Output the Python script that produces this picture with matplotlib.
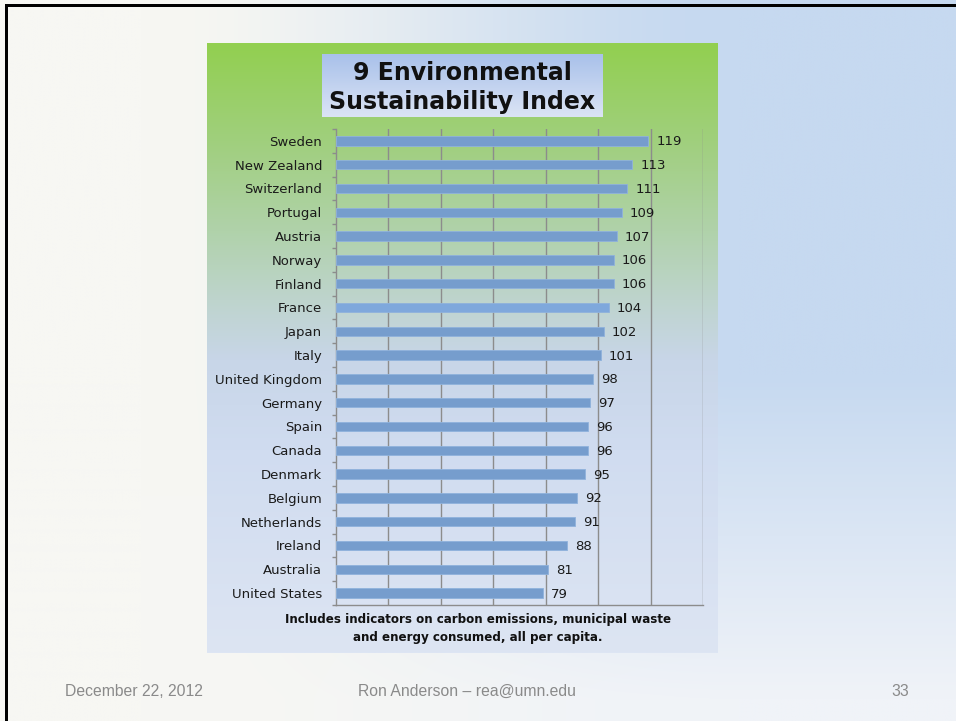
import numpy as np
import matplotlib
matplotlib.use("Agg")
import matplotlib.pyplot as plt
from matplotlib.colors import LinearSegmentedColormap
from matplotlib.patches import Rectangle
from matplotlib import font_manager

countries = ["Sweden", "New Zealand", "Switzerland", "Portugal", "Austria",
             "Norway", "Finland", "France", "Japan", "Italy",
             "United Kingdom", "Germany", "Spain", "Canada", "Denmark",
             "Belgium", "Netherlands", "Ireland", "Australia", "United States"]
scores = [119, 113, 111, 109, 107, 106, 106, 104, 102, 101,
          98, 97, 96, 96, 95, 92, 91, 88, 81, 79]
x_grid = [20, 40, 60, 80, 100, 120, 140]

title_lines = ["9 Environmental", "Sustainability Index"]
note_lines = ["Includes indicators on carbon emissions, municipal waste",
              "and energy consumed, all per capita."]
footer_left = "December 22, 2012"
footer_mid = "Ron Anderson \u2013 rea@umn.edu"
footer_right = "33"

W, H = 956, 721
fig = plt.figure(figsize=(W / 100, H / 100), dpi=100)


def px_axes(x0, y0, x1, y1, **kw):
    # axes placed by pixel box (top-left origin)
    return fig.add_axes([x0 / W, 1 - y1 / H, (x1 - x0) / W, (y1 - y0) / H], **kw)


# slide background: off-white on the left, pale blue to the right, fading lower down
bg = px_axes(0, 0, W, H)
xs = np.linspace(0, 1, 240)
ys = np.linspace(0, 1, 180)
gx, gy = np.meshgrid(xs, ys)
left_c = np.array([247, 247, 243]) / 255
right_c = np.array([198, 217, 240]) / 255
bottom_right = np.array([240, 243, 248]) / 255
hx = np.clip((gx - 0.15) / 0.62, 0, 1)
hx = hx * hx * (3 - 2 * hx)
vy = np.clip((gy - 0.52) / 0.45, 0, 1)
top_mix = left_c + (right_c - left_c) * hx[..., None]
bot_mix = left_c + (bottom_right - left_c) * hx[..., None]
img = top_mix * (1 - vy[..., None]) + bot_mix * vy[..., None]
bg.imshow(img, aspect="auto", extent=[0, 1, 1, 0], interpolation="bilinear")
bg.set_xlim(0, 1)
bg.set_ylim(1, 0)
bg.axis("off")

# black frame lines on top and left
fig.add_artist(Rectangle((5 / W, 0), 3 / W, 1 - 4 / H, transform=fig.transFigure,
                         facecolor="black", edgecolor="none"))
fig.add_artist(Rectangle((5 / W, 1 - 7 / H), 1 - 5 / W, 3 / H, transform=fig.transFigure,
                         facecolor="black", edgecolor="none"))

# chart panel with green-to-blue vertical gradient
box_top, box_bot = 43, 653
panel = px_axes(207, box_top, 718, box_bot)
stops = [(43, (146, 208, 80)), (140, (160, 207, 125)), (230, (176, 210, 170)),
         (300, (190, 212, 205)), (360, (200, 214, 232)), (450, (208, 220, 240)),
         (653, (221, 229, 243))]
panel_cmap = LinearSegmentedColormap.from_list(
    "panel", [((y - box_top) / (box_bot - box_top), np.array(c) / 255) for y, c in stops])
panel.imshow(np.linspace(0, 1, 256)[:, None], cmap=panel_cmap, aspect="auto",
             extent=[0, 1, 1, 0])
panel.set_xlim(0, 1)
panel.set_ylim(1, 0)
panel.axis("off")

# title box
tbox = px_axes(322, 54, 603, 117)
title_cmap = LinearSegmentedColormap.from_list(
    "tbox", [(0, "#a9c1ea"), (1, "#dbe4f5")])
tbox.imshow(np.linspace(0, 1, 64)[:, None], cmap=title_cmap, aspect="auto",
            extent=[0, 1, 1, 0])
tbox.axis("off")
for i, line in enumerate(title_lines):
    fig.text(462.5 / W, 1 - (73 + 28.5 * i) / H, line, ha="center", va="center",
             fontsize=17, fontweight="bold", color="#111111")

# bar plot area
ax = px_axes(335.7, 129, 703.3, 605)
ax.set_facecolor("none")
y = np.arange(len(countries))
bar_colors = ["#7fa8dc" if c == "France" else "#769dcd" for c in countries]
ax.barh(y, scores, height=0.4, color=bar_colors, edgecolor="#8fb2dc", linewidth=0.6,
        zorder=3)
for yi, v in zip(y, scores):
    ax.annotate(str(v), (v, yi), xytext=(8, -1), textcoords="offset pixels",
                ha="left", va="center", fontsize=9.5, color="#1a1a1a", zorder=4)

ax.set_xlim(0, 140)
ax.set_ylim(len(countries) - 0.5, -0.5)
ax.set_xticks(x_grid)
ax.set_xticklabels([])
ax.tick_params(axis="x", length=0)
ax.grid(axis="x", color="#8c8c8c", linewidth=1.0, zorder=1)
ax.set_yticks(y)
ax.set_yticklabels(countries, fontsize=9.5, color="#1a1a1a")
ax.set_yticks(np.arange(len(countries) + 1) - 0.5, minor=True)
ax.tick_params(axis="y", which="major", length=0, pad=9.8)
ax.tick_params(axis="y", which="minor", length=3, width=1, color="#8c8c8c",
               direction="out")
for side in ["top", "right"]:
    ax.spines[side].set_visible(False)
for side in ["left", "bottom"]:
    ax.spines[side].set_color("#8c8c8c")
    ax.spines[side].set_linewidth(1.0)

# footnote under the chart
for i, line in enumerate(note_lines):
    fig.text(478 / W, 1 - (620 + 17 * i) / H, line, ha="center", va="center",
             fontsize=8.6, fontweight="bold", color="#111111")

# slide footer
names = {f.name for f in font_manager.fontManager.ttflist}
foot_font = "Liberation Sans Narrow" if "Liberation Sans Narrow" in names else "Liberation Sans"
foot_kw = dict(va="center", fontsize=11.3, color="#8a8a8a", family=foot_font)
fig.text(65 / W, 1 - 691 / H, footer_left, ha="left", **foot_kw)
fig.text(467 / W, 1 - 691 / H, footer_mid, ha="center", **foot_kw)
fig.text(900 / W, 1 - 691 / H, footer_right, ha="center", **foot_kw)

fig.savefig("out.png", dpi=100)
